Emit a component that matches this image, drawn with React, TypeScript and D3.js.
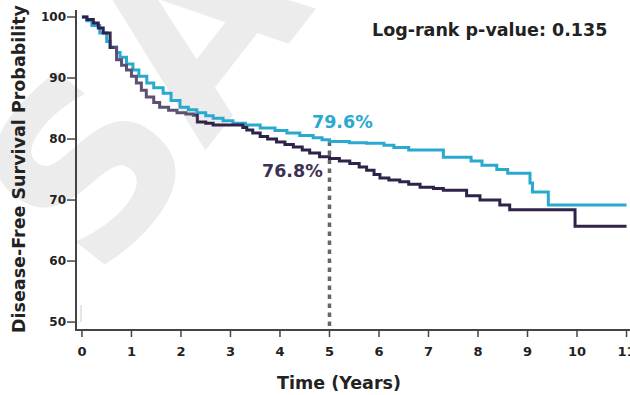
import React from "react";
import * as d3 from "d3";

const timesA = [0, 0.1, 0.2, 0.36, 0.5, 0.57, 0.7, 0.77, 0.9, 1.03, 1.15, 1.31, 1.45, 1.64, 1.8, 1.98, 2.15, 2.32, 2.5, 2.65, 2.85, 3.05, 3.3, 3.6, 3.9, 4.14, 4.4, 4.67, 4.85, 5.0, 5.4, 5.75, 6.1, 6.3, 6.6, 7.3, 7.86, 8.08, 8.38, 8.6, 9.05, 9.1, 9.42, 11.0];
const survA = [100, 99.4, 98.6, 97.4, 96, 95.1, 94.2, 93.4, 92.3, 91.3, 90.3, 89.2, 88.4, 87.5, 86.3, 85.2, 84.8, 84.3, 83.8, 83.4, 83.0, 82.6, 82.3, 81.8, 81.4, 81.0, 80.6, 80.2, 79.9, 79.6, 79.4, 79.3, 79.0, 78.6, 78.2, 77.0, 76.4, 75.7, 75.0, 74.4, 72.8, 71.3, 69.2, 69.2];

const timesB = [0, 0.1, 0.23, 0.33, 0.43, 0.57, 0.7, 0.8, 0.9, 1.0, 1.1, 1.2, 1.3, 1.45, 1.57, 1.75, 1.92, 2.1, 2.25, 2.33, 2.5, 2.65, 2.9, 3.13, 3.25, 3.33, 3.45, 3.6, 3.75, 3.93, 4.1, 4.27, 4.45, 4.6, 4.8, 5.0, 5.2, 5.41, 5.6, 5.75, 5.9, 6.02, 6.2, 6.42, 6.6, 6.83, 7.1, 7.3, 7.77, 8.04, 8.44, 8.64, 9.96, 11.0];
const survB = [100, 99.6, 99.0, 98.2, 97.4, 95.0, 93.0, 92.1, 91.3, 90.3, 89.2, 88.0, 86.9, 86.0, 85.2, 84.7, 84.3, 84.1, 83.9, 82.8, 82.6, 82.3, 82.3, 82.3, 81.9, 81.5, 81.0, 80.4, 80.0, 79.5, 79.1, 78.7, 78.2, 77.7, 77.1, 76.8, 76.4, 76.0, 75.4, 74.9, 74.2, 73.6, 73.3, 73.0, 72.6, 72.1, 71.9, 71.6, 70.7, 70.0, 69.2, 68.4, 65.7, 65.7];

const xTicks = [0, 1, 2, 3, 4, 5, 6, 7, 8, 9, 10, 11];
const yTicks = [50, 60, 70, 80, 90, 100];
const landmarkTime = 5;
const landmarkA = "79.6%";
const landmarkB = "76.8%";
const pValueText = "Log-rank p-value: 0.135";
const xLabel = "Time (Years)";
const yLabel = "Disease-Free Survival Probability";
const watermark = "SABCS";

const W = 630;
const H = 395;
const FONT = "'DejaVu Sans', Verdana, sans-serif";
const CYAN = "#29a9cf";
const PURPLE = "#2f2349";

export default function App() {
  const x = d3.scaleLinear().domain([-0.12, 11.07]).range([76, 630]);
  const y = d3.scaleLinear().domain([48.7, 101.15]).range([330, 10]);

  const line = d3
    .line<[number, number]>()
    .x((d) => x(d[0]))
    .y((d) => y(d[1]))
    .curve(d3.curveStepAfter);

  const ptsA: [number, number][] = timesA.map((t, i) => [t, survA[i]]);
  const ptsB: [number, number][] = timesB.map((t, i) => [t, survB[i]]);
  const frac = (t: number) => (x(t) - x(0)) / (x(11) - x(0));

  return (
    <svg
      width={W}
      height={H}
      style={{ position: "absolute", left: 0, top: 0, background: "#fff" }}
      fontFamily={FONT}
    >
      <defs>
        <linearGradient id="purpleGrad" gradientUnits="userSpaceOnUse" x1={x(0)} x2={x(11)} y1={0} y2={0}>
          <stop offset={0} stopColor="#2e2350" />
          <stop offset={frac(0.55)} stopColor="#2e2350" />
          <stop offset={frac(0.7)} stopColor="#5e5072" />
          <stop offset={frac(2.25)} stopColor="#5e5072" />
          <stop offset={frac(2.35)} stopColor={PURPLE} />
          <stop offset={1} stopColor={PURPLE} />
        </linearGradient>
      </defs>
      <rect x={0} y={0} width={W} height={H} fill="#fff" />
      <text
        transform="translate(100.5,284.6) rotate(-52)"
        fontSize={235}
        fontWeight="bold"
        fill="#ececec"
      >
        {watermark}
      </text>

      {/* axes */}
      <line x1={76} x2={630} y1={330} y2={330} stroke="#444" strokeWidth={2} />
      <line x1={76} x2={76} y1={10} y2={331} stroke="#444" strokeWidth={2} />
      {xTicks.map((t) => (
        <g key={"xt" + t}>
          <line x1={x(t)} x2={x(t)} y1={330} y2={337} stroke="#444" strokeWidth={1.5} />
          <text x={x(t)} y={356} textAnchor="middle" fontSize={13} fontWeight="bold" fill="#222">
            {t}
          </text>
        </g>
      ))}
      {yTicks.map((v) => (
        <g key={"yt" + v}>
          <line x1={67} x2={76} y1={y(v)} y2={y(v)} stroke="#444" strokeWidth={1.5} />
          <text x={66} y={y(v)} dy="0.36em" textAnchor="end" fontSize={12} fontWeight="bold" fill="#222">
            {v}
          </text>
        </g>
      ))}
      <line x1={81} x2={81} y1={305} y2={322} stroke="#ccc" strokeWidth={1} />

      {/* landmark */}
      <line
        x1={x(landmarkTime)}
        x2={x(landmarkTime)}
        y1={y(79.6)}
        y2={328}
        stroke="#666"
        strokeWidth={3.5}
        strokeDasharray="4.5 4.5"
      />

      {/* curves */}
      <path d={line(ptsA) || ""} fill="none" stroke={CYAN} strokeWidth={3} />
      <path d={line(ptsB) || ""} fill="none" stroke="url(#purpleGrad)" strokeWidth={3} />

      <text x={312} y={128} fontSize={17.5} fontWeight="bold" fill={CYAN}>
        {landmarkA}
      </text>
      <text x={262} y={177} fontSize={17.5} fontWeight="bold" fill="#3d3253">
        {landmarkB}
      </text>

      <text x={372} y={36} fontSize={17.5} fontWeight="bold" fill="#222">
        {pValueText}
      </text>

      <text x={339} y={389} textAnchor="middle" fontSize={17.5} fontWeight="bold" fill="#222">
        {xLabel}
      </text>
      <text transform="translate(25,169) rotate(-90)" textAnchor="middle" fontSize={17.5} fontWeight="bold" fill="#222">
        {yLabel}
      </text>
    </svg>
  );
}
